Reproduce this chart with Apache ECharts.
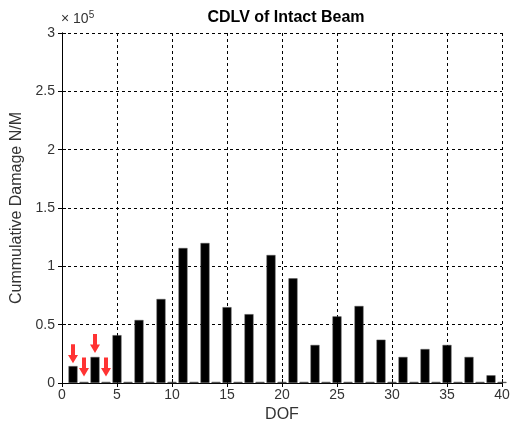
<!DOCTYPE html>
<html>
<head>
<meta charset="utf-8">
<script src="https://cdn.jsdelivr.net/npm/echarts@6/dist/echarts.min.js"></script>
<style>
  html, body { margin: 0; padding: 0; background: #fff; }
  #chart { width: 510px; height: 426px; }
</style>
</head>
<body>
<div id="chart"></div>
<script>
// DOF numbers and cumulative damage (x 1e5 N/M)
const dof = [1, 2, 3, 4, 5, 6, 7, 8, 9, 10, 11, 12, 13, 14, 15, 16, 17, 18, 19, 20,
  21, 22, 23, 24, 25, 26, 27, 28, 29, 30, 31, 32, 33, 34, 35, 36, 37, 38, 39, 40]
const damage = [0.145, 0.01, 0.223, 0.01, 0.41, 0.01, 0.54, 0.01, 0.72, 0.01,
  1.157, 0.01, 1.2, 0.01, 0.65, 0.01, 0.59, 0.01, 1.097, 0.01,
  0.897, 0.01, 0.326, 0.01, 0.571, 0.01, 0.66, 0.01, 0.371, 0.01,
  0.223, 0.01, 0.291, 0.01, 0.326, 0.01, 0.223, 0.01, 0.066, 0.01]
// red markers pointing at the first four DOFs
const arrowDof = [1, 2, 3, 4]
const arrowY = [0.25, 0.137, 0.338, 0.137]
const xTicks = [0, 5, 10, 15, 20, 25, 30, 35, 40]
const yTicks = [0, 0.5, 1, 1.5, 2, 2.5, 3]

const font = 'Liberation Sans, Arial, sans-serif'
const chart = echarts.init(document.getElementById('chart'))

const gridLine = { show: true, lineStyle: { color: '#000', type: [3, 3], width: 1 } }

chart.setOption({
  animation: false,
  title: {
    text: 'CDLV of Intact Beam',
    left: 281,
    textAlign: 'center',
    top: 5,
    textStyle: { fontFamily: font, fontSize: 16, fontWeight: 'bold', color: '#000' }
  },
  graphic: [{
    type: 'text',
    left: 61,
    top: 10,
    style: {
      text: '× 10{s|5}',
      fontFamily: font,
      fontSize: 14,
      fill: '#333',
      rich: { s: { fontSize: 10, verticalAlign: 'top', padding: [0, 0, 9, 0], fontFamily: font, fill: '#333' } }
    }
  }],
  grid: { left: 62, right: 8, top: 33, bottom: 43, outerBoundsMode: 'none', containLabel: false },
  xAxis: [{
    type: 'value',
    min: xTicks[0],
    max: xTicks[xTicks.length - 1],
    interval: 5,
    name: 'DOF',
    nameLocation: 'middle',
    nameGap: 23,
    nameTextStyle: { fontFamily: font, fontSize: 16, color: '#333' },
    axisLine: { lineStyle: { color: '#000' } },
    axisTick: { inside: true, length: 4, lineStyle: { color: '#000' } },
    axisLabel: { fontFamily: font, fontSize: 14, color: '#333', margin: 5 },
    splitLine: gridLine
  }, {
    type: 'value',
    position: 'top',
    min: 0, max: 40, interval: 5,
    axisLine: { show: true, lineStyle: { color: '#000' } },
    axisTick: { show: true, inside: true, length: 4, lineStyle: { color: '#000' } },
    axisLabel: { show: false },
    splitLine: { show: false }
  }],
  yAxis: [{
    type: 'value',
    min: yTicks[0],
    max: yTicks[yTicks.length - 1],
    interval: 0.5,
    name: 'Cummulative Damage N/M',
    nameLocation: 'middle',
    nameGap: 36,
    nameTextStyle: { fontFamily: font, fontSize: 16, color: '#333' },
    axisLine: { show: true, lineStyle: { color: '#000' } },
    axisTick: { show: true, inside: true, length: 4, lineStyle: { color: '#000' } },
    axisLabel: { fontFamily: font, fontSize: 14, color: '#333', margin: 7 },
    splitLine: gridLine
  }, {
    type: 'value',
    position: 'right',
    min: 0, max: 3, interval: 0.5,
    axisLine: { show: true, lineStyle: { color: '#000' } },
    axisTick: { show: true, inside: true, length: 4, lineStyle: { color: '#000' } },
    axisLabel: { show: false },
    splitLine: { show: false }
  }],
  series: [{
    type: 'bar',
    data: dof.map((d, i) => [d, damage[i]]),
    barWidth: 9,
    itemStyle: { color: '#000', borderColor: '#555', borderWidth: 0.5 },
    z: 3
  }, {
    type: 'scatter',
    data: arrowDof.map((d, i) => [d, arrowY[i]]),
    symbol: 'path://M3,0 L7,0 L7,10 L10,10 L5,18 L0,10 L3,10 Z',
    symbolSize: [10, 19],
    itemStyle: { color: '#ff0000' },
    z: 5
  }]
})
</script>
</body>
</html>
